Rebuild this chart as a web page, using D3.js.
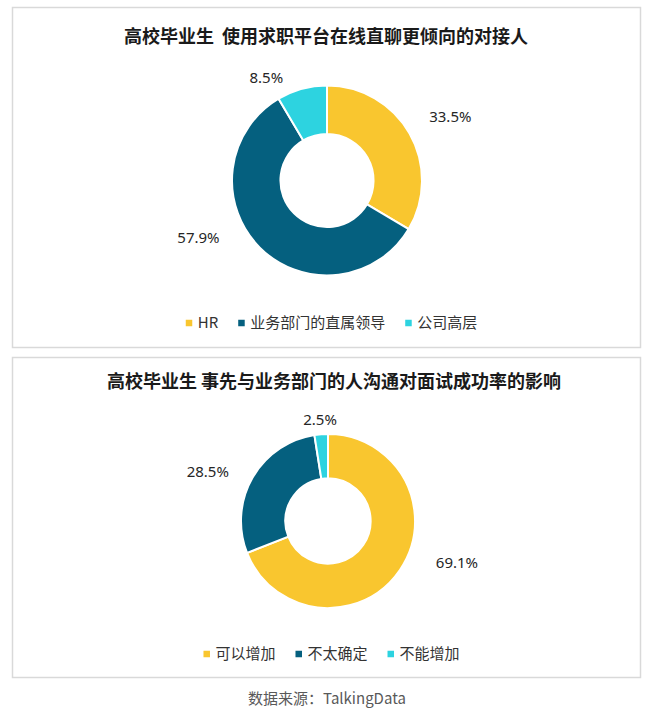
<!DOCTYPE html>
<html>
<head>
<meta charset="utf-8">
<script src="https://cdn.jsdelivr.net/npm/d3@7/dist/d3.min.js"></script>
<style>
  html, body { margin: 0; padding: 0; background: #fff; }
  svg { display: block; }
  .title  { font-family: "Noto Sans CJK SC", "Noto Sans", sans-serif; font-weight: 700; font-size: 18px; fill: #1a1a1a; white-space: pre; }
  .label  { font-family: "Noto Sans", "Noto Sans CJK SC", sans-serif; font-size: 15px; fill: #262626; }
  .legend { font-family: "Noto Sans CJK SC", "Noto Sans", sans-serif; font-size: 15px; fill: #333; }
  .source { font-family: "Noto Sans CJK SC", "Noto Sans", sans-serif; font-size: 15px; fill: #595959; }
</style>
</head>
<body>
<svg id="chart"></svg>
<script>
// ---- data ----
const topTitle         = '高校毕业生  使用求职平台在线直聊更倾向的对接人';
const topCategories    = [ 'HR', '业务部门的直属领导', '公司高层' ];
const topValues        = [ 33.5, 57.9, 8.5 ];

const bottomTitle      = '高校毕业生 事先与业务部门的人沟通对面试成功率的影响';
const bottomCategories = [ '可以增加', '不太确定', '不能增加' ];
const bottomValues     = [ 69.1, 28.5, 2.5 ];

const sourceNote       = '数据来源：TalkingData';

// ---- styling / layout ----
const sliceColors = [ '#F9C62F', '#05607F', '#2DD3E0' ];
const width  = 650;
const height = 719;

// labels were dragged by hand in the original, so each one gets a small nudge
const panels = [
  { title: topTitle, categories: topCategories, values: topValues,
    box: { x: 12.5, y: 7.5, w: 628, h: 340 }, titleX: 326, titleY: 37,
    cx: 327, cy: 180.5, outer: 95, legendY: 323,
    labelNudge: [ [ 6, 3 ], [ -33, -38 ], [ -25, 27 ] ] },
  { title: bottomTitle, categories: bottomCategories, values: bottomValues,
    box: { x: 12.5, y: 357.5, w: 628, h: 320 }, titleX: 334, titleY: 382,
    cx: 328, cy: 521, outer: 87, legendY: 654,
    labelNudge: [ [ 24, -30 ], [ -10, 14 ], [ 2, 25 ] ] }
];

const svg = d3.select( '#chart' )
  .attr( 'width', width )
  .attr( 'height', height )
  .attr( 'viewBox', `0 0 ${width} ${height}` );

const color = d3.scaleOrdinal( ).domain( [ 0, 1, 2 ] ).range( sliceColors );
const pct   = v => d3.format( '.1f' )( v ) + '%';

panels.forEach( p => {
  const g = svg.append( 'g' );

  // panel frame
  g.append( 'rect' )
    .attr( 'x', p.box.x ).attr( 'y', p.box.y )
    .attr( 'width', p.box.w ).attr( 'height', p.box.h )
    .attr( 'fill', '#fff' )
    .attr( 'stroke', '#d9d9d9' )
    .attr( 'stroke-width', 1.5 );

  g.append( 'text' )
    .attr( 'class', 'title' )
    .attr( 'xml:space', 'preserve' )
    .attr( 'x', p.titleX ).attr( 'y', p.titleY )
    .attr( 'dy', '0.35em' )
    .attr( 'text-anchor', 'middle' )
    .text( p.title );

  // doughnut
  const pie  = d3.pie( ).sort( null ).value( d => d );
  const arcs = pie( p.values );
  const arc  = d3.arc( ).innerRadius( p.outer * 0.49 ).outerRadius( p.outer );

  const donut = g.append( 'g' )
    .attr( 'transform', `translate(${p.cx},${p.cy})` );

  donut.selectAll( 'path' )
    .data( arcs )
    .enter( )
    .append( 'path' )
      .attr( 'd', arc )
      .attr( 'fill', ( d, i ) => color( i ) )
      .attr( 'stroke', '#fff' )
      .attr( 'stroke-width', 2 );

  // value labels, placed on the mid angle a bit outside the ring
  const labelArc = d3.arc( ).innerRadius( p.outer + 40 ).outerRadius( p.outer + 40 );
  donut.selectAll( 'text' )
    .data( arcs )
    .enter( )
    .append( 'text' )
      .attr( 'class', 'label' )
      .attr( 'text-anchor', 'middle' )
      .attr( 'dy', '0.35em' )
      .attr( 'x', ( d, i ) => labelArc.centroid( d )[0] + p.labelNudge[i][0] )
      .attr( 'y', ( d, i ) => labelArc.centroid( d )[1] + p.labelNudge[i][1] )
      .text( d => pct( d.data ) );

  // legend, laid out by measured text width and centred in the panel
  const legend = g.append( 'g' );
  const items = legend.selectAll( 'g' )
    .data( p.categories )
    .enter( )
    .append( 'g' );
  items.append( 'rect' )
    .attr( 'width', 6.5 ).attr( 'height', 6.5 )
    .attr( 'y', -3.25 )
    .attr( 'fill', ( d, i ) => color( i ) );
  items.append( 'text' )
    .attr( 'class', 'legend' )
    .attr( 'x', 12 )
    .attr( 'dy', '0.35em' )
    .text( d => d );

  let offset = 0;
  items.each( function ( ) {
    const w = this.querySelector( 'text' ).getComputedTextLength( ) + 12;
    d3.select( this ).attr( 'transform', `translate(${offset},0)` );
    offset += w + 20;
  } );
  const total = offset - 20;
  legend.attr( 'transform', `translate(${p.box.x + p.box.w / 2 + 5 - total / 2},${p.legendY})` );
} );

svg.append( 'text' )
  .attr( 'class', 'source' )
  .attr( 'x', 327 ).attr( 'y', 699 )
  .attr( 'dy', '0.35em' )
  .attr( 'text-anchor', 'middle' )
  .text( sourceNote );
</script>
</body>
</html>
